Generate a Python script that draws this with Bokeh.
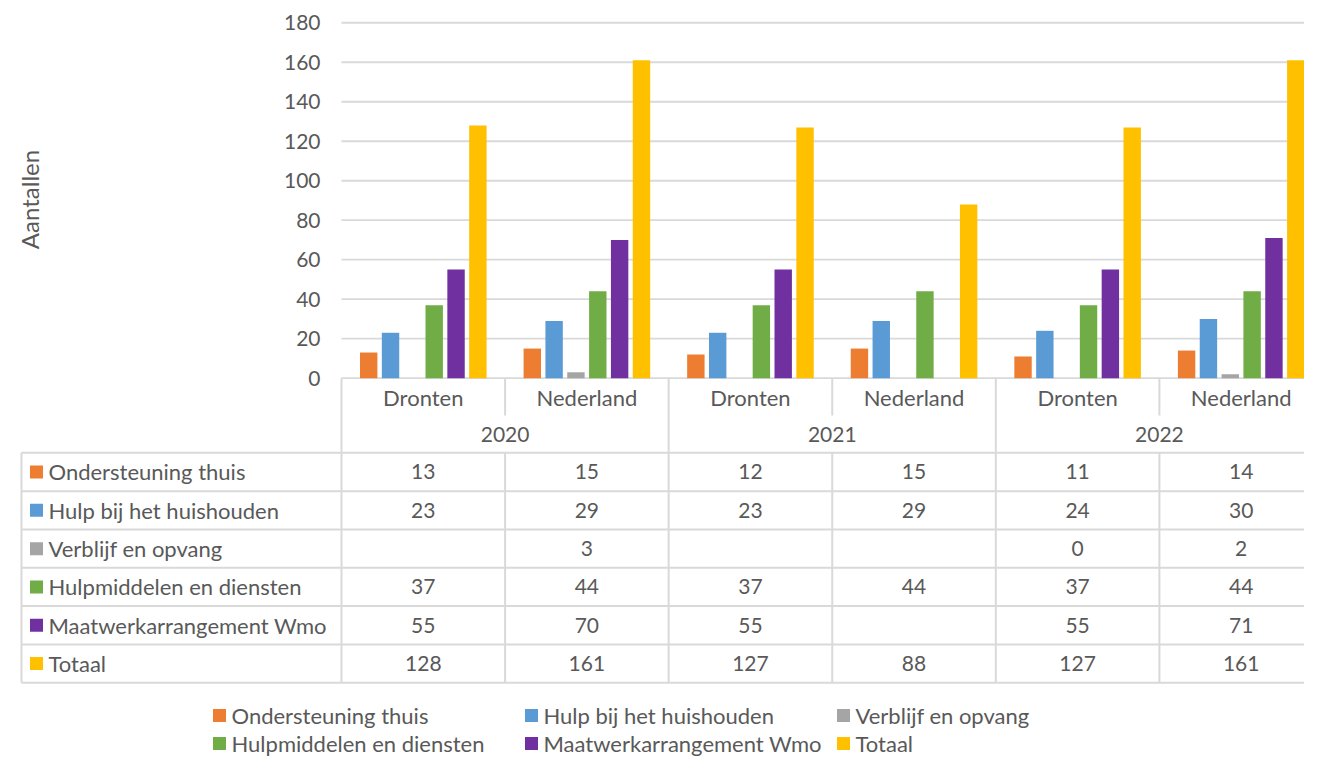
from bokeh.plotting import figure
from bokeh.models import Range1d
from bokeh.core.properties import value
from bokeh.embed import file_html
from bokeh.resources import INLINE

# ---------------- data ----------------
years = ["2020", "2021", "2022"]
regions = ["Dronten", "Nederland"]
categories = [(y, r) for y in years for r in regions]

series_names = ["Ondersteuning thuis", "Hulp bij het huishouden", "Verblijf en opvang",
                "Hulpmiddelen en diensten", "Maatwerkarrangement Wmo", "Totaal"]
ondersteuning = [13, 15, 12, 15, 11, 14]
hulp_huishouden = [23, 29, 23, 29, 24, 30]
verblijf = [None, 3, None, None, 0, 2]
hulpmiddelen = [37, 44, 37, 44, 37, 44]
maatwerk = [55, 70, 55, None, 55, 71]
totaal = [128, 161, 127, 88, 127, 161]
series_values = [ondersteuning, hulp_huishouden, verblijf, hulpmiddelen, maatwerk, totaal]
colors = ["#ED7D31", "#5B9BD5", "#A5A5A5", "#70AD47", "#7030A0", "#FFC000"]
y_ticks = [0, 20, 40, 60, 80, 100, 120, 140, 160, 180]
y_title = "Aantallen"

# ---------------- layout helpers (canvas pixels -> data) ----------------
W, H = 1304, 758
X0 = 341.0                       # left of plot area
CW = (W - X0) / 5.887            # px per category
Y0, PU = 377.7, 1.9747           # y of zero line, px per unit
def xd(px): return (px - X0) / CW
def yd(py): return (Y0 - py) / PU

FONT = value("Lato")
TXT = "#595959"
LINE = "#D9D9D9"
FS_NUM = "21px"
FS_TXT = "22px"
FS_TITLE = "24px"

p = figure(width=W, height=H, output_backend="svg", toolbar_location=None,
           x_range=Range1d(xd(0), xd(W)), y_range=Range1d(yd(H), yd(0)),
           x_axis_type=None, y_axis_type=None, min_border=0)
p.outline_line_color = None
p.grid.visible = False
p.background_fill_color = "white"
p.border_fill_color = "white"

x_right = xd(W) + 1

# gridlines
p.segment(x0=[0] * len(y_ticks), y0=y_ticks, x1=[x_right] * len(y_ticks), y1=y_ticks,
          line_color=LINE, line_width=1.8)

# bars
n_ser = len(series_names)
pitch = 0.1335
bw = 0.1064
for j, (vals, col) in enumerate(zip(series_values, colors)):
    xs, tops = [], []
    for i, v in enumerate(vals):
        if v is None:
            continue
        xs.append(i + 0.5 + (j - (n_ser - 1) / 2) * pitch)
        tops.append(v)
    p.vbar(x=xs, top=tops, bottom=0, width=bw, fill_color=col, line_color=None)

# y tick labels
p.text(x=[xd(320)] * len(y_ticks), y=y_ticks, text=[str(t) for t in y_ticks],
       text_font=FONT, text_font_size=FS_NUM, text_color=TXT,
       text_align="right", text_baseline="middle")

# y title
p.text(x=[xd(29)], y=[yd(199)], text=[y_title], angle=1.5708,
       text_font=FONT, text_font_size=FS_TITLE, text_color=TXT,
       text_align="center", text_baseline="middle")

# ---------------- table ----------------
n_cat = len(categories)
row_top = 452.3
row_h = 38.33
n_rows = len(series_names)
table_bottom = row_top + row_h * n_rows
tbl_left = xd(21)

hy = [yd(row_top + row_h * r) for r in range(n_rows + 1)]
p.segment(x0=[tbl_left] * len(hy), y0=hy, x1=[x_right] * len(hy), y1=hy,
          line_color=LINE, line_width=2)
p.segment(x0=[tbl_left], y0=[yd(row_top)], x1=[tbl_left], y1=[yd(table_bottom)],
          line_color=LINE, line_width=2)
yx = [k * len(regions) for k in range(len(years))]
p.segment(x0=yx, y0=[0] * len(yx), x1=yx, y1=[yd(table_bottom)] * len(yx),
          line_color=LINE, line_width=2)
rx = [k * len(regions) + 1 for k in range(len(years))]
p.segment(x0=rx, y0=[0] * len(rx), x1=rx, y1=[yd(415)] * len(rx),
          line_color=LINE, line_width=2)
p.segment(x0=rx, y0=[yd(row_top)] * len(rx), x1=rx, y1=[yd(table_bottom)] * len(rx),
          line_color=LINE, line_width=2)

# category labels
p.text(x=[i + 0.5 for i in range(n_cat)], y=[yd(397)] * n_cat,
       text=[c[1] for c in categories],
       text_font=FONT, text_font_size=FS_TXT, text_color=TXT,
       text_align="center", text_baseline="middle")
p.text(x=[k * len(regions) + len(regions) / 2 for k in range(len(years))],
       y=[yd(434)] * len(years), text=years,
       text_font=FONT, text_font_size=FS_NUM, text_color=TXT,
       text_align="center", text_baseline="middle")

# row labels and values
row_centers = [yd(row_top + row_h * (r + 0.5)) for r in range(n_rows)]
p.scatter(x=[xd(36)] * n_rows, y=row_centers, marker="square", size=13,
          fill_color=colors, line_color=None)
p.text(x=[xd(48)] * n_rows, y=row_centers, text=series_names,
       text_font=FONT, text_font_size=FS_TXT, text_color=TXT,
       text_align="left", text_baseline="middle")
vx, vy, vt = [], [], []
for r, vals in enumerate(series_values):
    for i, v in enumerate(vals):
        if v is None:
            continue
        vx.append(i + 0.5)
        vy.append(row_centers[r])
        vt.append(str(v))
p.text(x=vx, y=vy, text=vt, text_font=FONT, text_font_size=FS_NUM, text_color=TXT,
       text_align="center", text_baseline="middle")

# ---------------- legend ----------------
leg_cols_px = [219, 531, 843]
leg_rows_px = [715, 743]
lx, ly, tx = [], [], []
for k in range(n_ser):
    lx.append(xd(leg_cols_px[k % 3]))
    tx.append(xd(leg_cols_px[k % 3] + 12))
    ly.append(yd(leg_rows_px[k // 3]))
p.scatter(x=lx, y=ly, marker="square", size=13, fill_color=colors, line_color=None)
p.text(x=tx, y=ly, text=series_names,
       text_font=FONT, text_font_size=FS_TXT, text_color=TXT,
       text_align="left", text_baseline="middle")

open("out.html", "w").write(file_html(p, INLINE))
